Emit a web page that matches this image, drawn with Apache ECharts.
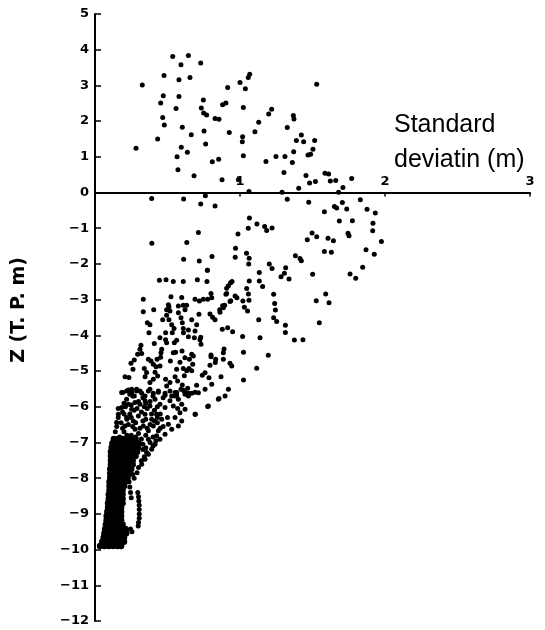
<!DOCTYPE html>
<html>
<head>
<meta charset="utf-8">
<script src="https://cdn.jsdelivr.net/npm/echarts@6/dist/echarts.min.js"></script>
<style>
  html, body { margin: 0; padding: 0; background: #fff; }
  #chart { width: 545px; height: 630px; }
</style>
</head>
<body>
<div id="chart"></div>
<script>
// tick labels
const xTicks = [1, 2, 3];
const yTicks = [-12, -11, -10, -9, -8, -7, -6, -5, -4, -3, -2, -1, 0, 1, 2, 3, 4, 5];

// points above sea level (x = standard deviation, y = Z)
const upperPts = [
  [0.283,1.24],[0.326,3.01],[0.432,1.50],[0.453,2.51],[0.467,2.10],[0.471,2.71],[0.476,3.28],[0.478,1.89],
  [0.536,3.81],[0.559,2.35],[0.566,1.00],[0.572,0.64],[0.579,2.69],[0.579,3.16],[0.593,3.58],[0.595,1.27],
  [0.602,1.83],[0.637,1.13],[0.644,3.84],[0.655,3.22],[0.664,1.62],[0.683,0.47],[0.729,3.63],[0.733,2.37],
  [0.747,2.59],[0.749,2.23],[0.752,1.72],[0.763,1.36],[0.770,2.17],[0.809,0.86],[0.828,2.07],[0.855,2.05],
  [0.853,0.93],[0.876,0.36],[0.880,2.46],[0.903,2.51],[0.915,2.94],[0.926,1.68],[0.989,0.36],[1.000,3.08],
  [1.018,1.56],[1.016,1.42],[1.023,2.38],[1.023,1.03],[1.037,2.91],[1.057,3.22],[1.067,3.31],[1.062,0.03],
  [1.103,1.70],[1.129,1.97],[1.179,0.87],[1.198,2.20],[1.218,2.33],[1.248,1.01],[1.290,0.01],[1.303,0.56],
  [1.310,1.01],[1.326,1.82],[1.361,0.84],[1.368,2.16],[1.372,2.06],[1.370,1.14],[1.389,1.46],[1.405,0.12],
  [1.423,1.61],[1.439,1.42],[1.455,0.48],[1.469,1.05],[1.480,0.27],[1.487,1.07],[1.503,1.21],[1.515,1.46],
  [1.520,0.31],[1.529,3.03],[1.586,0.54],[1.611,0.52],[1.623,0.32],[1.660,0.34],[1.680,0.01],[1.710,0.14],
  [1.770,0.39]
];

// scattered points between 0 and about -5.5 on the right side
const lowerPts = [
  [0.391,-0.17],[0.611,-0.18],[0.761,-0.09],[0.729,-0.32],[0.828,-0.38],[1.326,-0.19],[1.474,-0.27],[1.582,-0.54],
  [1.651,-0.39],[1.667,-0.43],[1.706,-0.28],[1.736,-0.46],[1.830,-0.20],[1.876,-0.47],[1.933,-0.57],[1.065,-0.71],
  [1.117,-0.88],[1.170,-0.95],[1.184,-1.06],[1.221,-0.99],[1.057,-1.00],[0.986,-1.16],[0.713,-1.12],[0.392,-1.42],
  [0.633,-1.40],[0.611,-1.87],[0.719,-1.92],[0.807,-1.79],[0.775,-2.18],[0.969,-1.56],[0.967,-1.81],[1.045,-1.70],
  [1.063,-1.84],[1.060,-2.00],[1.133,-2.24],[1.133,-2.48],[1.156,-2.63],[1.202,-2.00],[1.221,-2.13],[1.283,-2.36],
  [1.315,-2.11],[1.306,-2.26],[1.338,-2.42],[1.382,-1.77],[1.414,-1.85],[1.423,-1.91],[1.464,-1.32],[1.497,-1.13],
  [1.529,-1.24],[1.501,-2.29],[1.607,-1.28],[1.644,-1.35],[1.582,-1.65],[1.630,-1.67],[1.685,-0.80],[1.775,-0.79],
  [1.745,-1.14],[1.752,-1.21],[1.759,-2.28],[1.798,-2.40],[1.846,-2.09],[1.869,-1.60],[1.917,-0.86],[1.915,-1.07],
  [1.926,-1.73],[1.975,-1.37],[1.591,-2.84],[1.614,-3.09],[1.526,-3.03],[1.547,-3.65],[1.434,-4.12],[1.375,-4.13],
  [1.313,-3.92],[1.313,-3.72],[1.253,-3.61],[1.232,-3.51],[1.244,-3.29],[1.239,-3.11],[1.232,-2.85],[1.195,-4.56],
  [1.115,-4.92],[1.138,-4.07],[1.129,-3.56],[1.064,-2.48],[1.046,-2.69],[1.058,-2.84],[1.062,-3.02],[1.020,-3.04],
  [1.030,-3.21],[1.052,-3.32],[1.018,-4.03],[1.024,-4.47],[1.024,-5.25],
  [0.444,-2.46],[0.490,-2.44],[0.540,-2.49],[0.609,-2.49],[0.706,-2.44],[0.772,-2.49],[0.775,-2.18],
  [0.908,-2.68],[0.920,-2.61],[0.935,-2.53],[0.945,-2.49],[0.966,-2.90],[0.979,-2.95],[0.903,-2.85],
  [0.936,-3.03],[0.894,-3.16],[0.860,-3.28],[0.949,-3.90],[0.915,-3.79],[0.878,-3.83],
  [0.851,-5.79],[0.777,-5.99],[0.692,-6.21]
];

// points in the band from -2.8 to -5.7, near the axis
const midPts = [
  [0.333,-2.99],[0.524,-2.92],[0.598,-2.94],[0.690,-2.99],[0.747,-2.99],[0.777,-2.99],[0.800,-2.83],[0.908,-2.83],
  [0.333,-3.34],[0.405,-3.28],[0.506,-3.14],[0.510,-3.20],[0.609,-3.16],[0.632,-3.16],[0.621,-3.28],[0.593,-3.51],
  [0.602,-3.65],[0.609,-3.81],[0.610,-3.93],[0.494,-3.44],[0.510,-3.56],[0.529,-3.70],[0.533,-3.93],[0.467,-3.56],
  [0.361,-3.65],[0.379,-3.70],[0.372,-3.93],[0.717,-3.41],[0.793,-3.40],[0.811,-3.49],[0.828,-3.56],[0.862,-3.35],
  [0.885,-3.23],[0.931,-3.05],[0.880,-3.17],[0.701,-3.70],[0.644,-4.04],[0.685,-4.07],[0.724,-4.12],[0.731,-4.25],
  [0.563,-4.14],[0.547,-4.21],[0.487,-4.12],[0.494,-4.21],[0.409,-4.23],[0.317,-4.28],[0.310,-4.39],[0.294,-4.53],
  [0.460,-4.39],[0.455,-4.49],[0.540,-4.49],[0.368,-4.67],[0.386,-4.72],[0.402,-4.81],[0.421,-4.88],[0.414,-5.03],
  [0.432,-5.14],[0.271,-4.69],[0.248,-4.78],[0.262,-4.95],[0.340,-4.93],[0.356,-5.04],[0.345,-5.16],[0.207,-5.16],
  [0.234,-5.18],[0.191,-5.60],[0.230,-5.53],[0.253,-5.51],[0.287,-5.51],[0.310,-5.56],[0.271,-5.70],[0.345,-5.70],
  [0.379,-5.51],[0.437,-5.56],[0.483,-5.68],[0.494,-5.42],[0.517,-5.32],[0.552,-5.16],[0.570,-5.28],[0.563,-4.95],
  [0.586,-4.75],[0.609,-4.93],[0.616,-5.13],[0.632,-4.99],[0.651,-4.67],[0.667,-4.53],[0.678,-4.58],[0.674,-4.81],
  [0.667,-4.99],[0.648,-4.93],[0.602,-5.39],[0.639,-5.48],[0.621,-5.59],[0.593,-5.51],[0.563,-5.68],[0.529,-5.70],
  [0.552,-5.60],[0.701,-5.40],[0.667,-5.62],[0.644,-5.70],[0.713,-5.61],[0.740,-5.12],[0.759,-5.05],[0.786,-5.19],
  [0.793,-4.84],[0.800,-4.55],[0.832,-4.67],[0.885,-4.49],[0.890,-4.38],[0.885,-4.67],[0.869,-5.16],[0.920,-5.51],
  [0.897,-5.70],[0.943,-4.86],[0.931,-4.78],[0.620,-4.63],[0.600,-4.44],[0.556,-4.47],[0.520,-4.72],[0.453,-4.61],
  [0.428,-4.67],[0.322,-4.51],[0.448,-4.86],[0.402,-5.23],[0.379,-5.32],[0.487,-5.23],[0.805,-5.37],[0.759,-5.51],
  [0.494,-3.28],[0.517,-3.32],[0.575,-3.18],[0.575,-3.37],[0.667,-3.56],[0.690,-3.88],[0.644,-3.85],[0.729,-4.05],
  [0.545,-3.81],[0.487,-3.93],[0.448,-4.07],[0.805,-2.95],[0.720,-3.04],[0.830,-4.76],[0.800,-4.60]
];

// crowded points from -5.5 down to the top of the solid mass
const crowdPts = [
  [0.184,-5.60],[0.218,-5.56],[0.253,-5.60],[0.287,-5.56],[0.322,-5.62],[0.368,-5.56],[0.402,-5.62],[0.437,-5.59],
  [0.483,-5.62],[0.517,-5.56],[0.563,-5.60],[0.609,-5.54],[0.644,-5.62],[0.690,-5.59],[0.855,-5.77],[0.782,-5.98],
  [0.690,-6.21],[0.218,-5.79],[0.184,-6.02],[0.161,-6.21],[0.149,-6.44],[0.230,-5.93],[0.253,-6.07],[0.276,-5.88],
  [0.310,-5.93],[0.345,-5.83],[0.379,-5.98],[0.414,-5.79],[0.448,-5.93],[0.483,-6.02],[0.517,-5.83],[0.540,-5.98],
  [0.575,-5.79],[0.598,-5.93],[0.621,-5.65],[0.621,-6.07],[0.586,-6.17],[0.552,-6.30],[0.598,-6.40],[0.575,-6.54],
  [0.529,-6.63],[0.506,-6.49],[0.460,-6.35],[0.425,-6.21],[0.391,-6.35],[0.345,-6.21],[0.299,-6.26],[0.264,-6.40],
  [0.218,-6.30],[0.207,-6.54],[0.276,-6.63],[0.333,-6.54],[0.368,-6.67],[0.402,-6.54],[0.437,-6.67],[0.483,-6.77],
  [0.448,-6.91],[0.414,-7.05],[0.391,-7.19],[0.368,-7.33],[0.345,-7.47],[0.322,-7.61],[0.425,-6.81],[0.368,-6.91],
  [0.150,-6.55],[0.180,-6.45],[0.200,-6.70],[0.230,-6.50],[0.250,-6.80],[0.280,-6.45],[0.300,-6.75],[0.330,-6.40],
  [0.350,-6.80],[0.380,-6.50],[0.400,-6.85],[0.430,-6.45],[0.170,-6.85],[0.190,-6.15],[0.240,-6.20],[0.270,-6.10],
  [0.320,-6.15],[0.360,-6.05],[0.410,-6.10],[0.450,-6.20],[0.500,-6.30],[0.470,-6.55],[0.140,-6.70],[0.210,-6.00],
  [0.300,-5.85],[0.260,-5.70],[0.400,-5.70],[0.470,-5.75],[0.550,-5.70],[0.570,-6.05],[0.360,-6.60],[0.220,-6.35],
  [0.130,-6.90],[0.380,-7.00],[0.400,-7.10],[0.356,-7.28],[0.330,-7.20],[0.340,-7.40],[0.320,-7.51],[0.300,-7.70],
  [0.290,-7.85],[0.270,-8.00],[0.260,-7.90],[0.330,-7.05],[0.350,-7.15],
  [0.160,-6.30],[0.200,-6.20],[0.250,-6.30],[0.290,-6.05],[0.340,-6.00],[0.390,-6.20],[0.430,-6.30],[0.190,-6.60],
  [0.260,-6.55],[0.310,-6.60],[0.350,-6.35],[0.410,-6.40],[0.450,-6.60],[0.220,-6.80],[0.280,-6.85],[0.320,-6.90],
  [0.420,-6.95],[0.200,-5.90],[0.250,-5.95],[0.350,-5.90],[0.430,-6.00],[0.160,-6.05],[0.240,-5.65],[0.330,-5.75],
  [0.380,-5.85]
];

// the solid mass near the bottom: depth and the x of each dot in that row
const massRows = [
  [-6.90, [0.13,0.16,0.19,0.22,0.25,0.28]],
  [-7.02, [0.12,0.15,0.18,0.21,0.24,0.27,0.30]],
  [-7.14, [0.115,0.145,0.175,0.205,0.235,0.265,0.295]],
  [-7.26, [0.11,0.14,0.17,0.20,0.23,0.26,0.29]],
  [-7.38, [0.11,0.14,0.17,0.20,0.23,0.26,0.28]],
  [-7.50, [0.11,0.14,0.17,0.20,0.23,0.26]],
  [-7.62, [0.11,0.14,0.17,0.20,0.23,0.26]],
  [-7.74, [0.105,0.135,0.165,0.195,0.225,0.25]],
  [-7.86, [0.105,0.135,0.165,0.195,0.225,0.24]],
  [-7.98, [0.105,0.135,0.165,0.195,0.225]],
  [-8.10, [0.10,0.13,0.16,0.19,0.21]],
  [-8.22, [0.10,0.13,0.16,0.19,0.20]],
  [-8.34, [0.10,0.13,0.16,0.19]],
  [-8.46, [0.095,0.125,0.155,0.19]],
  [-8.58, [0.095,0.125,0.155,0.19]],
  [-8.70, [0.09,0.12,0.15,0.18,0.19]],
  [-8.82, [0.09,0.12,0.15,0.18]],
  [-8.94, [0.085,0.115,0.145,0.18]],
  [-9.06, [0.08,0.11,0.14,0.17,0.18]],
  [-9.18, [0.08,0.11,0.14,0.17,0.18]],
  [-9.30, [0.075,0.105,0.135,0.165,0.19]],
  [-9.42, [0.07,0.10,0.13,0.16,0.19,0.21]],
  [-9.54, [0.065,0.095,0.125,0.155,0.185,0.215]],
  [-9.66, [0.06,0.09,0.12,0.15,0.18,0.20]],
  [-9.78, [0.05,0.08,0.11,0.14,0.17,0.20]],
  [-9.90, [0.035,0.065,0.095,0.125,0.155,0.18]]
];

// thin dotted strands right of the mass
const strandPts = [
  [0.295,-8.40],[0.300,-8.52],[0.302,-8.64],[0.305,-8.76],[0.305,-8.88],[0.305,-9.00],[0.305,-9.12],[0.300,-9.24],
  [0.298,-9.34],[0.235,-8.10],[0.240,-8.25],[0.245,-8.40],[0.250,-8.55],[0.245,-9.42],[0.255,-9.50]
];

const massPts = [];
massRows.forEach(row => row[1].forEach(x => massPts.push([x, row[0]])));

const chart = echarts.init(document.getElementById('chart'));
const font = 'Liberation Sans, Arial, sans-serif';
const tickFont = '"DejaVu Sans", sans-serif';
const dot = { color: '#000', opacity: 1 };
// grid spans 607 px for 17 units; x axis sits on Z = 0, 12/17 of the height above the bottom
const xAxisOffset = -607 * 12 / 17;
const option = {
  backgroundColor: '#fff',
  animation: false,
  grid: { left: 95, right: 15, top: 14, bottom: 9 },
  xAxis: {
    type: 'value', min: 0, max: 3, interval: 1,
    position: 'bottom', offset: xAxisOffset,
    axisLine: { onZero: false, lineStyle: { color: '#000', width: 2 } },
    axisTick: { show: true, length: 4, lineStyle: { color: '#000', width: 1.5 } },
    axisLabel: {
      inside: true, margin: 4, color: '#000', fontWeight: 'bold', fontSize: 13, fontFamily: tickFont,
      formatter: v => (xTicks.indexOf(v) >= 0 ? String(v) : '')
    },
    splitLine: { show: false }
  },
  yAxis: {
    type: 'value', min: -12, max: 5, interval: 1,
    axisLine: { onZero: false, lineStyle: { color: '#000', width: 2 } },
    axisTick: { show: true, inside: true, length: 6, lineStyle: { color: '#000', width: 1.5 } },
    axisLabel: {
      margin: 6, color: '#000', fontWeight: 'bold', fontSize: 13, fontFamily: tickFont,
      formatter: v => (yTicks.indexOf(v) >= 0 ? String(v).replace('-', '\u2212') : '')
    },
    splitLine: { show: false }
  },
  graphic: [
    {
      type: 'text', x: 394, y: 108,
      style: {
        text: 'Standard\ndeviatin (m)', fill: '#000', font: '25px ' + font,
        lineHeight: 35, textVerticalAlign: 'top'
      }
    },
    {
      type: 'text', x: 19, y: 310, rotation: Math.PI / 2,
      style: {
        text: 'Z (T. P. m)', fill: '#000',
        font: 'bold 19px "DejaVu Sans", sans-serif',
        textAlign: 'center', textVerticalAlign: 'middle'
      }
    }
  ],
  series: [
    { name: 'upper', type: 'scatter', data: upperPts, symbolSize: 5, itemStyle: dot },
    { name: 'lower', type: 'scatter', data: lowerPts, symbolSize: 5, itemStyle: dot },
    { name: 'mid', type: 'scatter', data: midPts, symbolSize: 5, itemStyle: dot },
    { name: 'crowd', type: 'scatter', data: crowdPts, symbolSize: 5, itemStyle: dot },
    { name: 'strand', type: 'scatter', data: strandPts, symbolSize: 5, itemStyle: dot },
    { name: 'mass', type: 'scatter', data: massPts, symbolSize: 6.5, itemStyle: dot }
  ]
};
chart.setOption(option);
window.addEventListener('resize', () => chart.resize());
</script>
</body>
</html>
